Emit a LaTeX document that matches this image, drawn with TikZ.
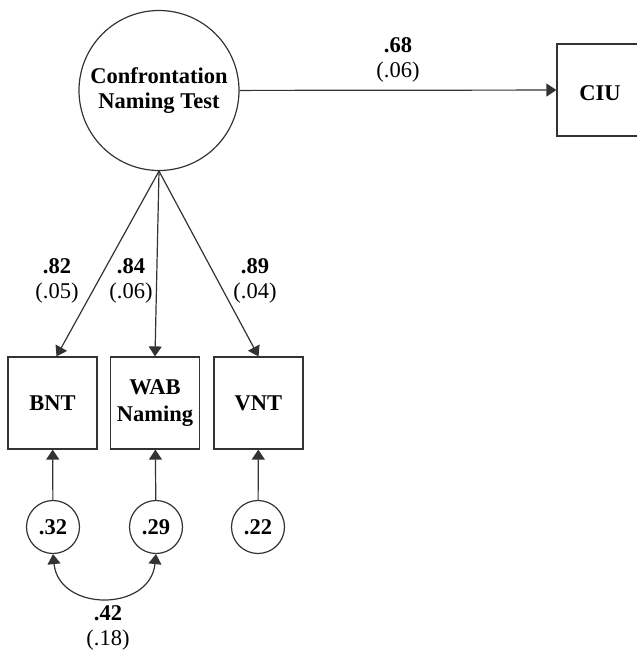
\documentclass[tikz,border=0pt]{standalone}
\usepackage{fontspec}
\setmainfont{Liberation Serif}
\usetikzlibrary{arrows.meta}
\begin{document}
\begin{tikzpicture}[x=1pt,y=-1pt,
  every node/.style={font=\fontsize{22.5}{25}\selectfont},
  conn/.style={draw=black!80,line width=1.2pt,-{Triangle[length=10pt,width=13pt]}},
  dconn/.style={draw=black!80,line width=1.2pt,{Triangle[length=10pt,width=13pt]}-{Triangle[length=10pt,width=13pt]}},
  latent/.style={circle,draw=black!80,line width=1.2pt,minimum size=160pt,inner sep=0pt,align=center,font=\fontsize{22.5}{25}\selectfont\bfseries},
  obsbox/.style={rectangle,draw=black!80,line width=1.2pt,minimum width=89pt,minimum height=92pt,inner sep=0pt,align=center,font=\fontsize{22.5}{27}\selectfont\bfseries},
  errc/.style={circle,draw=black!80,line width=1.2pt,minimum size=53pt,inner sep=0pt,font=\fontsize{22.5}{25}\selectfont\bfseries},
  lbl/.style={align=center,inner sep=0pt}
]
\useasboundingbox (0,0) rectangle (637,654);
\clip (0,0) rectangle (637,654);
\node[latent] (cnt) at (159,90.5) {Confrontation\\Naming Test};
\node[obsbox,minimum width=88pt] (ciu) at (601,90) {};
\node[font=\fontsize{22.5}{25}\selectfont\bfseries] (ciut) at (600,93) {CIU};
\node[obsbox] (bnt) at (52.5,403) {BNT};
\node[obsbox] (wab) at (155,403) {WAB\\Naming};
\node[obsbox] (vnt) at (258.5,403) {VNT};
\node[errc] (e1) at (53,527) {.32};
\node[errc] (e2) at (156,527) {.29};
\node[errc] (e3) at (258,527) {.22};
\draw[conn] (cnt) -- (ciu);
\draw[conn] (cnt.south) -- ([xshift=4pt]bnt.north);
\draw[conn] (cnt.south) -- (wab.north);
\draw[conn] (cnt.south) -- (vnt.north);
\draw[conn] (e1) -- (bnt);
\draw[conn] (e2) -- (wab);
\draw[conn] (e3) -- (vnt);
\draw[dconn] (e1.south) .. controls +(6,58) and +(-6,58) .. (e2.south);
\node[lbl] (l68) at (398,60) {\textbf{.68}\\(.06)};
\node[lbl] (l82) at (57,281) {\textbf{.82}\\(.05)};
\node[lbl] (l84) at (131,281) {\textbf{.84}\\(.06)};
\node[lbl] (l89) at (255,281) {\textbf{.89}\\(.04)};
\node[lbl] (l42) at (108,628) {\textbf{.42}\\(.18)};
\end{tikzpicture}
\end{document}
